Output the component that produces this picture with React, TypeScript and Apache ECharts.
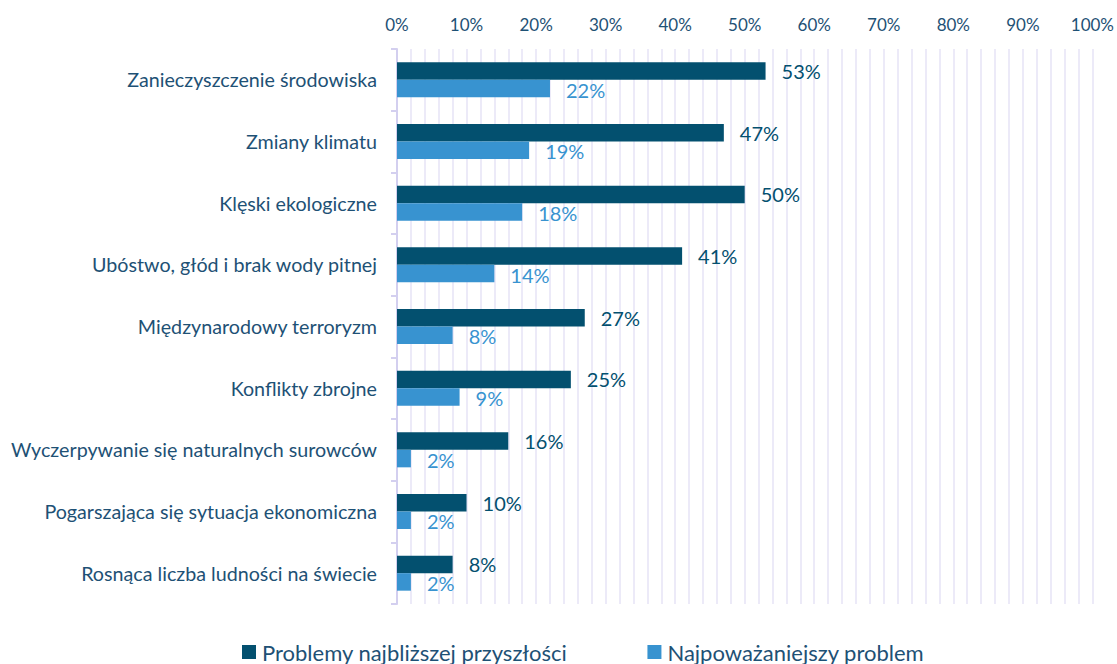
import React, { useEffect, useRef } from "react";
import * as echarts from "echarts";

const categories = [
  "Zanieczyszczenie środowiska",
  "Zmiany klimatu",
  "Klęski ekologiczne",
  "Ubóstwo, głód i brak wody pitnej",
  "Międzynarodowy terroryzm",
  "Konflikty zbrojne",
  "Wyczerpywanie się naturalnych surowców",
  "Pogarszająca się sytuacja ekonomiczna",
  "Rosnąca liczba ludności na świecie",
];
const seriesNames = ["Problemy najbliższej przyszłości", "Najpoważaniejszy problem"];
const futureProblems = [53, 47, 50, 41, 27, 25, 16, 10, 8];
const seriousProblem = [22, 19, 18, 14, 8, 9, 2, 2, 2];

const DARK = "#03506F";
const LIGHT = "#3893D0";
const TEXT = "#1E5175";
const FONT = "Lato, 'Open Sans', sans-serif";

export default function App() {
  const ref = useRef<HTMLDivElement>(null);
  useEffect(() => {
    const chart = echarts.init(ref.current!, null, { renderer: "svg" });
    chart.setOption({
      animation: false,
      textStyle: { fontFamily: FONT },
      grid: { left: 397, right: 23, top: 49, bottom: 60, containLabel: false },
      legend: {
        data: seriesNames,
        top: 636,
        left: 237,
        itemWidth: 14,
        itemHeight: 14,
        itemGap: 80,
        icon: "rect",
        textStyle: { fontSize: 22, color: TEXT, fontFamily: FONT, padding: [0, 0, 0, 1] },
      },
      xAxis: {
        type: "value",
        position: "top",
        min: 0,
        max: 100,
        interval: 10,
        axisLine: { show: false },
        axisTick: { show: false },
        axisLabel: { formatter: "{value}%", fontSize: 17, color: TEXT, margin: 16, fontFamily: FONT },
        splitLine: { show: true, lineStyle: { color: "#ECEAF8", width: 2 } },
        minorTick: { show: false, splitNumber: 5 },
        minorSplitLine: { show: true, lineStyle: { color: "#ECEAF8", width: 2 } },
      },
      yAxis: {
        type: "category",
        data: categories,
        inverse: true,
        axisLine: { show: true, lineStyle: { color: "#D3CFEF", width: 2 } },
        axisTick: { show: true, length: 6, lineStyle: { color: "#D3CFEF", width: 2 } },
        axisLabel: { fontSize: 19.7, color: TEXT, margin: 20, fontFamily: FONT },
      },
      series: [
        {
          name: seriesNames[0],
          type: "bar",
          data: futureProblems,
          barWidth: 17.5,
          barGap: "0%",
          itemStyle: { color: DARK },
          label: {
            show: true,
            position: "right",
            distance: 16,
            formatter: "{c}%",
            fontSize: 20,
            color: DARK,
            fontFamily: FONT,
          },
        },
        {
          name: seriesNames[1],
          type: "bar",
          data: seriousProblem,
          barWidth: 17.5,
          barGap: "0%",
          itemStyle: { color: LIGHT },
          label: {
            show: true,
            position: "right",
            distance: 16,
            offset: [0, 1],
            formatter: "{c}%",
            fontSize: 20,
            color: LIGHT,
            fontFamily: FONT,
          },
        },
      ],
    });
    return () => chart.dispose();
  }, []);
  return (
    <div
      ref={ref}
      style={{ position: "fixed", left: 0, top: 0, width: 1117, height: 664, background: "#fff" }}
    />
  );
}
